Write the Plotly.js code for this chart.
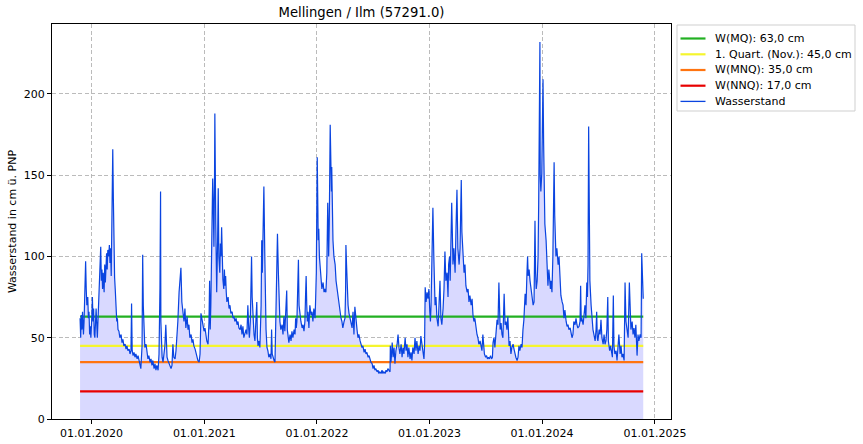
<!DOCTYPE html>
<html>
<head>
<meta charset="utf-8">
<script src="https://cdn.plot.ly/plotly-3.0.1.min.js"></script>
<style>html,body{margin:0;padding:0;background:#fff;}#chart{width:863px;height:444px;}</style>
</head>
<body>
<div id="chart"></div>
<script>
// Day offsets relative to 01.01.2020 and the water level (cm)
const epochDate = '2020-01-01';
const days = [-37,-35,-33,-31,-29,-26,-24,-21,-19,-17,-15,-12,-10,-8,-6,-4,-2,1,3,5,7,9,11,15,17,19,21,24,28,30,32,34,36,38,41,43,45,47,49,51,53,56,58,60,62,64,66,69,71,73,75,77,79,82,84,86,89,92,96,99,102,105,109,112,115,118,122,125,128,130,132,135,138,141,144,148,151,154,157,160,164,166,168,170,173,177,180,183,186,190,193,196,199,203,206,209,212,216,219,222,224,225,229,232,235,238,241,243,245,248,251,255,258,261,264,267,271,274,277,280,284,287,290,293,297,300,303,306,310,313,316,319,323,326,329,332,336,339,342,345,349,352,355,358,362,365,368,371,374,378,381,383,385,387,391,393,395,397,399,400,403,405,406,409,411,413,416,418,420,422,424,426,429,431,433,435,437,439,443,446,449,452,456,459,462,465,469,472,475,478,482,485,488,491,494,498,501,504,507,510,512,515,517,519,521,524,527,530,533,536,538,540,543,546,550,552,554,557,559,562,564,566,569,572,575,579,582,584,586,588,592,595,598,600,603,606,608,611,614,618,621,624,627,631,633,635,637,640,644,647,650,653,657,660,662,664,666,669,671,673,676,679,683,686,689,692,694,696,698,700,702,705,708,712,715,718,721,725,727,729,731,732,734,735,737,739,742,744,747,751,754,757,760,763,765,766,768,769,771,773,774,776,778,779,781,783,786,790,793,796,799,803,806,809,812,815,819,822,824,825,827,829,832,835,838,841,845,848,851,854,858,861,864,867,871,874,877,880,884,887,890,893,897,900,903,906,910,913,916,919,922,926,929,932,935,939,942,945,948,952,955,958,961,965,968,969,971,973,975,978,981,984,987,991,994,997,1000,1004,1007,1010,1013,1017,1020,1023,1026,1029,1033,1036,1039,1042,1046,1049,1052,1055,1059,1062,1065,1068,1072,1075,1078,1080,1082,1085,1088,1091,1094,1097,1099,1101,1103,1105,1107,1110,1112,1114,1117,1120,1124,1127,1130,1133,1136,1140,1143,1146,1149,1153,1156,1158,1161,1163,1166,1168,1170,1172,1175,1179,1182,1185,1188,1192,1195,1197,1199,1201,1205,1208,1211,1214,1218,1221,1224,1227,1231,1234,1237,1240,1243,1247,1250,1253,1256,1260,1263,1266,1269,1272,1274,1278,1281,1284,1287,1290,1294,1297,1300,1302,1305,1308,1312,1315,1318,1321,1325,1328,1331,1334,1338,1341,1344,1347,1350,1354,1357,1360,1363,1367,1370,1373,1376,1380,1383,1386,1389,1393,1396,1399,1402,1406,1409,1412,1414,1416,1419,1422,1425,1428,1432,1435,1436,1438,1440,1442,1445,1448,1450,1452,1454,1455,1457,1460,1462,1464,1466,1467,1470,1474,1477,1480,1483,1486,1488,1490,1493,1496,1498,1500,1502,1504,1506,1509,1513,1516,1519,1522,1526,1529,1532,1535,1539,1542,1545,1548,1552,1555,1558,1561,1564,1568,1571,1574,1577,1581,1584,1586,1588,1590,1594,1597,1600,1603,1606,1608,1610,1612,1614,1616,1620,1623,1626,1629,1633,1636,1638,1640,1642,1646,1649,1652,1655,1659,1662,1665,1668,1671,1674,1676,1680,1683,1686,1689,1692,1694,1697,1701,1704,1707,1710,1714,1717,1720,1723,1727,1730,1733,1736,1740,1744,1746,1749,1753,1756,1759,1762,1765,1767,1769,1772,1775,1779,1782,1784,1787,1789];
const level = [62,50,64,55,66,52,60,88,97,80,70,75,62,66,52,57,50,62,75,60,68,52,50,68,60,50,60,77,96,106,85,92,80,90,78,95,84,100,102,92,104,100,107,96,105,88,120,166,135,95,87,80,70,60,62,55,54,50,52,47,49,45,46,43,45,42,43,40,42,71,42,39,41,38,40,37,39,36,34,31,45,101,70,55,44,46,40,37,39,35,37,33,36,31,34,30,33,30,40,80,140,60,38,35,40,45,58,40,38,36,34,32,31,33,46,38,37,42,50,60,78,88,93,72,66,60,68,56,63,55,58,50,52,47,49,45,43,40,38,36,35,40,65,62,58,54,56,50,48,46,60,85,55,70,120,148,130,106,150,188,120,90,78,110,142,100,90,108,100,118,95,86,80,92,82,88,78,72,75,68,70,65,66,62,63,60,62,58,60,56,55,58,52,57,50,53,55,52,70,55,50,60,80,100,75,60,52,48,58,72,50,45,48,44,70,110,90,120,143,100,70,55,44,42,38,40,37,55,40,38,36,35,60,85,114,90,70,60,55,58,52,63,54,72,79,55,50,47,52,48,54,50,55,52,62,56,60,85,98,70,62,60,56,58,54,60,75,88,70,60,66,56,70,64,66,60,68,62,75,90,140,161,130,110,117,100,90,85,80,84,78,80,78,90,110,133,115,100,120,150,181,160,140,155,130,110,100,95,85,80,75,70,66,62,60,56,60,62,80,107,95,80,70,65,62,60,56,66,52,69,57,55,50,52,48,46,44,45,41,43,40,41,38,39,37,35,34,31,33,30,31,29,30,28,29,28,30,28,29,28,30,29,31,30,29,45,35,40,47,38,44,34,42,46,52,44,40,46,38,44,40,50,42,46,38,44,37,41,36,44,40,50,42,48,40,45,42,51,44,40,37,45,81,72,78,74,80,66,60,70,100,125,130,100,85,70,75,62,57,70,85,62,58,68,80,103,85,90,75,95,100,85,110,133,115,95,105,90,118,141,105,95,105,130,147,115,100,90,95,82,78,80,72,76,70,74,64,60,62,55,52,50,46,48,44,42,52,42,40,38,39,37,38,37,39,37,38,47,50,44,55,61,58,84,55,59,52,50,77,58,60,55,63,45,48,40,44,46,43,40,38,36,38,45,42,46,44,55,61,77,70,90,100,88,92,85,80,78,70,72,100,122,90,80,85,100,133,180,232,150,140,151,180,209,170,140,120,110,95,82,92,85,80,85,78,100,130,158,125,110,100,105,95,100,80,76,72,70,62,67,60,57,58,55,56,53,50,52,60,58,62,58,56,57,60,82,60,62,58,65,70,62,84,75,95,180,110,85,70,60,55,52,48,55,66,50,48,55,52,61,50,46,52,46,48,55,75,48,42,45,40,38,76,45,40,42,36,45,52,40,45,38,40,36,84,60,55,50,84,65,55,60,52,56,50,58,42,39,52,48,52,50,102,75,74];

// Reference levels (cm)
const refNames = ['W(MQ): 63,0 cm', '1. Quart. (Nov.): 45,0 cm', 'W(MNQ): 35,0 cm', 'W(NNQ): 17,0 cm'];
const refValues = [63, 45, 35, 17];
const refColors = ['#22b022', '#f5f52e', '#ff7410', '#e80000'];
const seriesName = 'Wasserstand';
const seriesColor = '#0a44e0';

const xTickDates = ['2020-01-01','2021-01-01','2022-01-01','2023-01-01','2024-01-01','2025-01-01'];
const xTickLabels = ['01.01.2020','01.01.2021','01.01.2022','01.01.2023','01.01.2024','01.01.2025'];
const yTicks = [0, 50, 100, 150, 200];

const epochMs = Date.parse(epochDate + 'T00:00:00Z');
function toDate(d) { return new Date(epochMs + d * 86400000).toISOString().slice(0, 10); }
const dates = days.map(toDate);
const firstDate = dates[0], lastDate = dates[dates.length - 1];

const FONT = 'DejaVu Sans, Arial, sans-serif';
const traces = [];
traces.push({
  x: dates, y: level, type: 'scatter', mode: 'lines',
  line: {width: 0, color: 'rgba(0,0,0,0)'},
  fill: 'tozeroy', fillcolor: 'rgb(217,217,255)',
  showlegend: false, hoverinfo: 'skip'
});
refValues.forEach((v, i) => {
  traces.push({
    x: [firstDate, lastDate], y: [v, v], type: 'scatter', mode: 'lines',
    name: refNames[i], line: {color: refColors[i], width: 2.2}, showlegend: false
  });
});
traces.push({
  x: dates, y: level, type: 'scatter', mode: 'lines',
  name: seriesName, line: {color: seriesColor, width: 1.2}, showlegend: false
});

// Legend drawn in paper coordinates (matplotlib-like compact legend)
const W = 619, H = 395, L = 52, T = 24;
const px = v => (v - L) / W;
const py = v => (T + H - v) / H;
const legNames = refNames.concat([seriesName]);
const legColors = refColors.concat([seriesColor]);
const legWidths = [2.2, 2.2, 2.2, 2.2, 1.3];
const rowY = [38.5, 54.3, 70, 85.7, 101.4];
const shapes = [{
  type: 'rect', xref: 'paper', yref: 'paper',
  x0: px(677), x1: px(855), y0: py(111), y1: py(25),
  line: {color: '#cfcfcf', width: 1}, fillcolor: '#fff', layer: 'above'
}];
const annotations = [];
legNames.forEach((n, i) => {
  shapes.push({type: 'line', xref: 'paper', yref: 'paper',
    x0: px(680.5), x1: px(705.5), y0: py(rowY[i]), y1: py(rowY[i]),
    line: {color: legColors[i], width: legWidths[i]}, layer: 'above'});
  annotations.push({xref: 'paper', yref: 'paper', x: px(712.5), y: py(rowY[i]),
    xanchor: 'left', yanchor: 'middle', showarrow: false, text: n,
    font: {family: FONT, size: 11, color: '#000'}});
});

const axisCommon = {
  showline: true, linecolor: '#000', linewidth: 1, mirror: true,
  ticks: 'outside', ticklen: 4, tickcolor: '#000', tickwidth: 1,
  showgrid: true, gridcolor: '#b4b4b4', griddash: '4px,2.5px', gridwidth: 0.9,
  zeroline: false, tickfont: {family: FONT, size: 11, color: '#000'}
};

const layout = {
  width: 863, height: 444,
  margin: {l: 52, r: 192, t: 24, b: 25, pad: 0},
  paper_bgcolor: '#fff', plot_bgcolor: '#fff',
  font: {family: FONT, size: 11, color: '#000'},
  title: {text: 'Mellingen / Ilm (57291.0)', font: {family: FONT, size: 13.2, color: '#000'},
          xref: 'paper', x: 0.5, xanchor: 'center', yref: 'container', y: 0.971, yanchor: 'middle'},
  xaxis: Object.assign({}, axisCommon, {
    type: 'date', range: ['2019-08-26', '2025-02-22'],
    tickmode: 'array', tickvals: xTickDates, ticktext: xTickLabels
  }),
  yaxis: Object.assign({}, axisCommon, {
    range: [0, 243], tickmode: 'array', tickvals: yTicks,
    title: {text: 'Wasserstand in cm ü. PNP', font: {family: FONT, size: 11, color: '#000'}, standoff: 4}
  }),
  shapes: shapes,
  annotations: annotations,
  showlegend: false
};

Plotly.newPlot('chart', traces, layout, {displayModeBar: false, staticPlot: true});
</script>
</body>
</html>
